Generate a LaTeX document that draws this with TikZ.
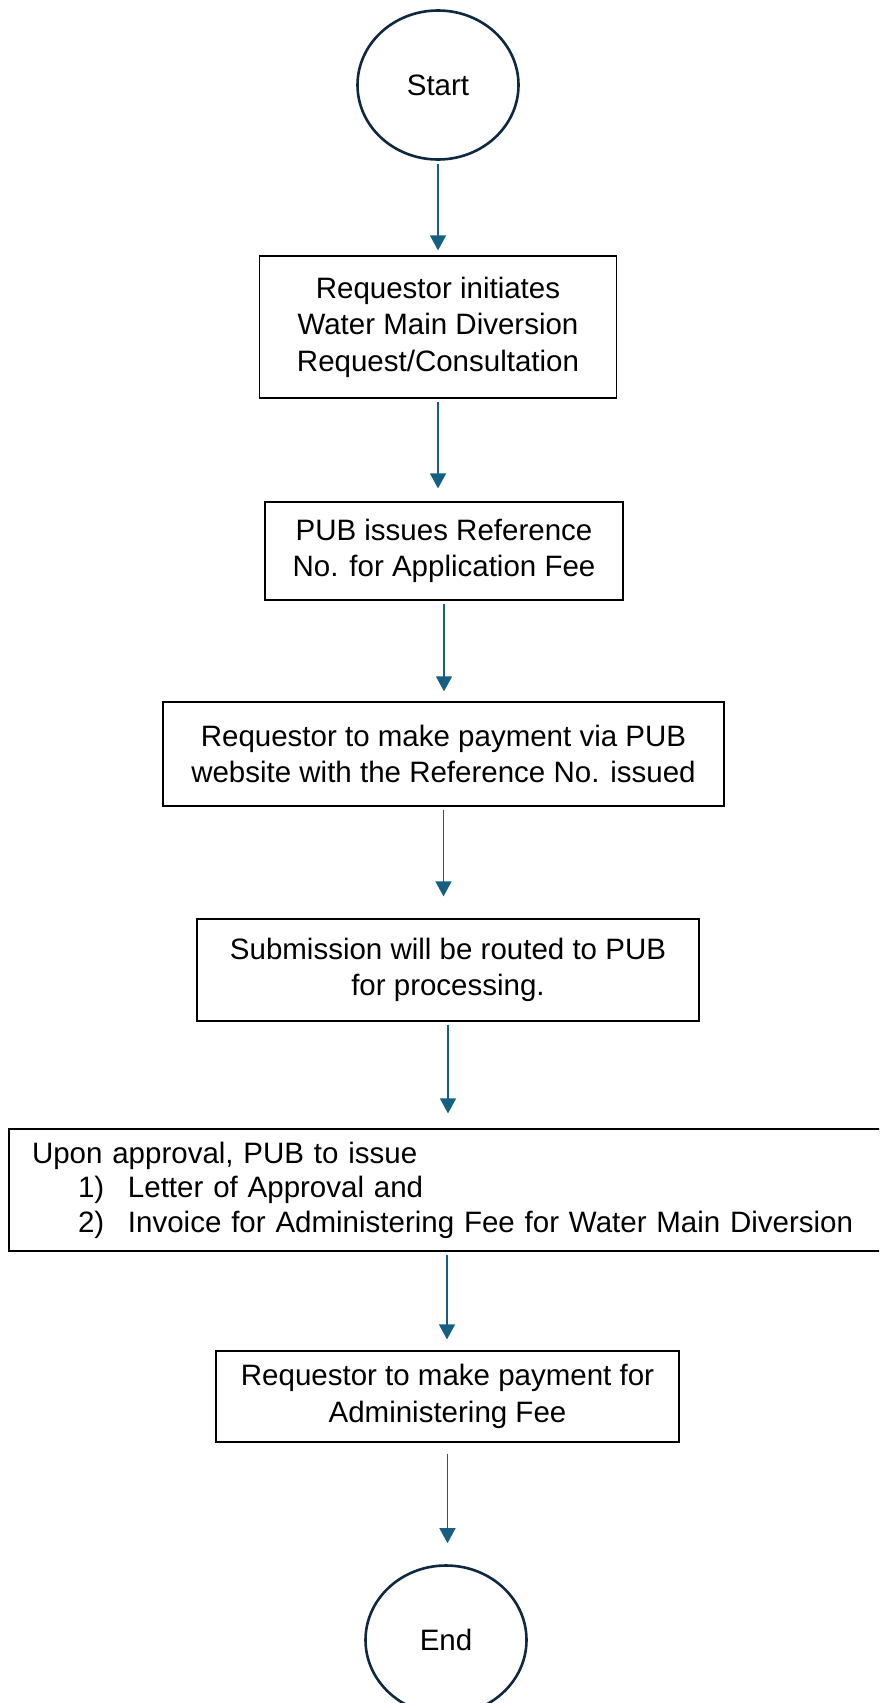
\documentclass[tikz,border=0pt]{standalone}
\usepackage{fontspec}
\setmainfont{Liberation Sans}
\usepackage{tikz}
\usetikzlibrary{shapes.geometric,arrows.meta}
\definecolor{termline}{HTML}{0E2841}
\definecolor{flowline}{HTML}{156082}

\begin{document}
\begin{tikzpicture}[x=1pt, y=-1pt,
		term_style/.style={ellipse,draw=termline,line width=2.6pt,fill=white,minimum width=161pt,minimum height=149pt,inner sep=0pt,font=\fontsize{29.5}{36.5}\selectfont},
		box_style/.style={rectangle,draw=black,line width=1.2pt,fill=white,align=center,inner sep=0pt,font=\fontsize{29.5}{36.5}\selectfont},
		edge_style/.style={draw=flowline,line width=1.3pt,-{Triangle[width=16pt,length=15pt]},shorten <=3pt}]
		\useasboundingbox (0,0) rectangle (879,1703);
		\clip (0,0) rectangle (879,1703);
		\node[term_style] (start) at (438,85) {Start};
		\node[box_style,minimum width=357pt,minimum height=142pt] (initiate) at (438,327) {Requestor initiates\\Water Main Diversion\\Request/Consultation};
		\node[box_style,minimum width=358pt,minimum height=98pt] (refno) at (444,551) {PUB issues Reference\\No. for Application Fee};
		\node[box_style,minimum width=561pt,minimum height=104pt] (payweb) at (443.5,754) {Requestor to make payment via PUB\\website with the Reference No. issued};
		\node[box_style,minimum width=502pt,minimum height=102pt] (route) at (448,970) {Submission will be routed to PUB\\for processing.};
		\node[box_style,minimum width=876pt,minimum height=122pt,align=left,text width=830pt,inner xsep=23pt,font=\fontsize{29.5}{34.5}\selectfont] (approve) at (447,1190) {Upon approval, PUB to issue\\
			\hspace*{46pt}\makebox[50pt][l]{1)}Letter of Approval and\\
			\hspace*{46pt}\makebox[50pt][l]{2)}Invoice for Administering Fee for Water Main Diversion};
		\node[box_style,minimum width=463pt,minimum height=91pt] (payadmin) at (447.5,1396.5) {Requestor to make payment for\\Administering Fee};
		\node[term_style] (end) at (446,1640) {End};
		\draw[edge_style,shorten >=5pt]  (start.south) -- (start.south |- initiate.north);
		\draw[edge_style,shorten >=13pt] (initiate.south) -- (initiate.south |- refno.north);
		\draw[edge_style,shorten >=10pt] (refno.south) -- (refno.south |- payweb.north);
		\draw[edge_style,shorten >=22pt] (payweb.south) -- (payweb.south |- route.north);
		\draw[edge_style,shorten >=15pt] (route.south) -- (route.south |- approve.north);
		\draw[edge_style,shorten >=11pt] (approve.south) -- (approve.south |- payadmin.north);
		\draw[edge_style,shorten <=11pt,shorten >=21pt] (payadmin.south) -- (payadmin.south |- end.north);
\end{tikzpicture}
\end{document}
